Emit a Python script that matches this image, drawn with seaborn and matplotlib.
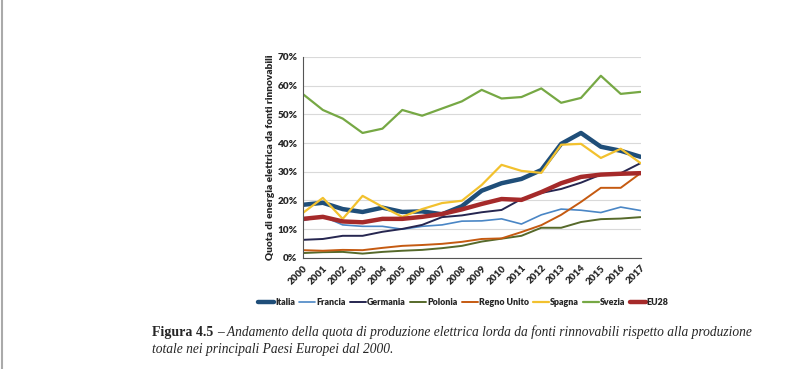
import numpy as np
import pandas as pd
import matplotlib
matplotlib.use("Agg")
import matplotlib.pyplot as plt
import seaborn as sns

years = list(range(2000, 2018))

italia = [18.5, 19.2, 17.0, 16.0, 17.5, 16.0, 16.2, 15.2, 18.0, 23.4, 26.0, 27.5, 30.6, 39.7, 43.5, 38.7, 37.3, 35.2]
francia = [13.0, 14.5, 11.5, 11.0, 11.0, 10.0, 11.0, 11.5, 12.8, 12.9, 13.6, 11.8, 15.0, 17.0, 16.6, 15.8, 17.7, 16.5]
germania = [6.3, 6.6, 7.7, 7.7, 9.1, 10.1, 11.5, 14.2, 14.8, 15.9, 16.7, 20.5, 22.6, 24.0, 26.2, 29.0, 29.5, 33.0]
polonia = [1.7, 2.0, 2.1, 1.5, 2.1, 2.5, 2.8, 3.4, 4.2, 5.7, 6.7, 7.7, 10.5, 10.5, 12.5, 13.5, 13.7, 14.2]
regno_unito = [2.7, 2.5, 2.8, 2.7, 3.5, 4.2, 4.5, 4.9, 5.6, 6.6, 6.8, 9.0, 11.4, 15.0, 19.5, 24.4, 24.4, 29.5]
spagna = [15.7, 20.9, 13.6, 21.6, 17.8, 14.3, 17.0, 19.1, 19.9, 25.4, 32.4, 30.3, 29.6, 39.4, 39.7, 34.8, 38.0, 33.0]
svezia = [57.0, 51.5, 48.5, 43.5, 45.0, 51.5, 49.5, 52.0, 54.5, 58.5, 55.5, 56.0, 59.0, 54.0, 55.7, 63.4, 57.1, 57.8]
eu28 = [13.6, 14.3, 12.7, 12.4, 13.6, 13.6, 14.3, 15.3, 16.9, 18.8, 20.5, 20.2, 22.9, 26.0, 28.2, 29.0, 29.3, 29.5]

names = ["Italia", "Francia", "Germania", "Polonia", "Regno Unito", "Spagna", "Svezia", "EU28"]
series = [italia, francia, germania, polonia, regno_unito, spagna, svezia, eu28]
colors = ["#1f4e79", "#4a86c5", "#262650", "#56692a", "#c55a11", "#f2c12e", "#76a844", "#a52a2a"]
widths = [3.2, 1.2, 1.4, 1.4, 1.4, 1.6, 1.6, 3.2]

df = pd.DataFrame({n: s for n, s in zip(names, series)}, index=years)
df.index.name = "anno"
long = df.reset_index().melt(id_vars="anno", var_name="paese", value_name="quota")

sns.set_style("white")
plt.rcParams["font.family"] = ["Lato", "DejaVu Sans"]

fig = plt.figure(figsize=(7.85, 3.69), dpi=100)
ax = fig.add_axes([0.386, 0.301, 0.43, 0.545])

for name, col, lw in zip(names, colors, widths):
    sns.lineplot(data=long[long["paese"] == name], x="anno", y="quota",
                 color=col, linewidth=lw, ax=ax, label=name)

ax.set_xlim(2000, 2017)
ax.set_ylim(0, 70)
ax.set_yticks(range(0, 71, 10))
ax.set_yticklabels(["{}%".format(v) for v in range(0, 71, 10)], fontsize=7.2, fontweight="heavy")
ax.set_xticks(years)
ax.set_xticklabels([str(y) for y in years], rotation=45, ha="right", rotation_mode="anchor",
                   fontsize=7, fontweight="heavy")
ax.grid(axis="y", color="#d9d9d9", linewidth=0.8)
ax.set_axisbelow(True)
for s in ["top", "right"]:
    ax.spines[s].set_visible(False)
ax.spines["left"].set_color("#555555")
ax.spines["bottom"].set_color("#555555")
ax.tick_params(axis="both", length=0, pad=4)
ax.set_xlabel("")
ax.set_ylabel("Quota di energia elettrica da fonti rinnovabili", fontsize=7.3, fontweight="heavy",
              labelpad=2)

ax.legend(loc="upper center", bbox_to_anchor=(0.475, -0.16), ncol=8, frameon=False,
          prop={"size": 6.4, "weight": "heavy"}, handlelength=1.8, columnspacing=0.5,
          handletextpad=0.1)

t1 = fig.text(152 / 785, 1 - 336 / 369, "Figura 4.5", fontsize=10, fontweight="bold",
              family="Liberation Serif")
fig.canvas.draw()
bb = t1.get_window_extent()
fig.text((bb.x1 + 4) / 785, 1 - 336 / 369,
         "\u2013 Andamento della quota di produzione elettrica lorda da fonti rinnovabili rispetto alla produzione",
         fontsize=9.75, style="italic", family="Liberation Serif")
fig.text(152 / 785, 1 - 353 / 369, "totale nei principali Paesi Europei dal 2000.", fontsize=9.75,
         style="italic", family="Liberation Serif")

# left page edge
fig.add_artist(plt.Line2D([0.003, 0.003], [0, 1], color="#aaaaaa", linewidth=1.5))

fig.savefig("out.png", dpi=100)
